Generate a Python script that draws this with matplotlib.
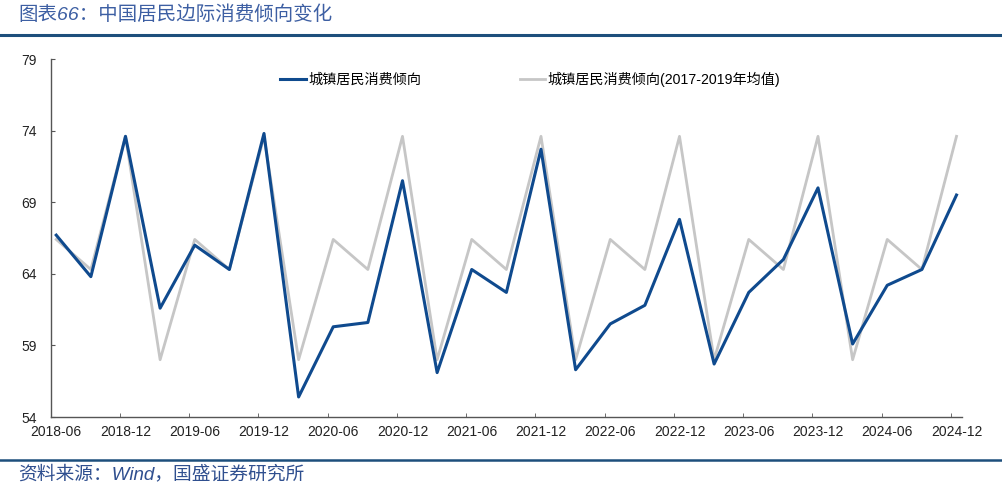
import matplotlib
matplotlib.use('Agg')
import matplotlib.pyplot as plt
import numpy as np

plt.rcParams['font.family'] = ['Liberation Sans', 'Noto Sans CJK SC', 'DejaVu Sans']

# quarterly data, 2018-06 .. 2024-12
quarters = ['2018-06', '2018-09', '2018-12',
            '2019-03', '2019-06', '2019-09', '2019-12',
            '2020-03', '2020-06', '2020-09', '2020-12',
            '2021-03', '2021-06', '2021-09', '2021-12',
            '2022-03', '2022-06', '2022-09', '2022-12',
            '2023-03', '2023-06', '2023-09', '2023-12',
            '2024-03', '2024-06', '2024-09', '2024-12']
urban = [66.7, 63.8, 73.6,
         61.6, 66.0, 64.3, 73.8,
         55.4, 60.3, 60.6, 70.5,
         57.1, 64.3, 62.7, 72.7,
         57.3, 60.5, 61.8, 67.8,
         57.7, 62.7, 65.0, 70.0,
         59.1, 63.2, 64.3, 69.5]
avg_17_19 = [66.4, 64.3, 73.6,
             58.0, 66.4, 64.3, 73.6,
             58.0, 66.4, 64.3, 73.6,
             58.0, 66.4, 64.3, 73.6,
             58.0, 66.4, 64.3, 73.6,
             58.0, 66.4, 64.3, 73.6,
             58.0, 66.4, 64.3, 73.6]
yticks = [54, 59, 64, 69, 74, 79]

blue = '#0f4a8e'
grey = '#c6c6c6'
dark = '#1d4f7c'

fig = plt.figure(figsize=(10.02, 4.91), dpi=100)
ax = fig.add_axes([50.7 / 1002, 1 - 417 / 491, 911 / 1002, 358 / 491])

x = np.arange(len(quarters))
ax.plot(x, avg_17_19, color=grey, lw=2.0, label='城镇居民消费倾向(2017-2019年均值)', zorder=2)
ax.plot(x, urban, color=blue, lw=2.2, label='城镇居民消费倾向', zorder=3)

ax.set_xlim(-0.15, len(quarters) - 1 + 0.15)
ax.set_ylim(54, 79)
ax.set_yticks(yticks)
ax.set_yticklabels([str(v) for v in yticks], fontsize=10, color='#222222')

# labels at every other quarter, tick marks sit slightly left of the points
ax.set_xticks(x[::2])
ax.set_xticklabels(quarters[::2], fontsize=10, color='#222222')
ax.tick_params(axis='x', length=0, pad=6)
ax.set_xticks(x[::2] - 0.16, minor=True)
ax.tick_params(axis='x', which='minor', direction='in', length=3, color='#555555')
ax.tick_params(axis='y', direction='in', length=3, color='#555555', pad=10)

for s in ['top', 'right']:
    ax.spines[s].set_visible(False)
for s in ['left', 'bottom']:
    ax.spines[s].set_color('#555555')
    ax.spines[s].set_linewidth(1.0)

h, l = ax.get_legend_handles_labels()
leg = ax.legend([h[1], h[0]], [l[1], l[0]], ncol=2, loc='upper left',
                bbox_to_anchor=(217 / 911, 1.0), frameon=False, fontsize=10.2,
                handlelength=1.8, handletextpad=0.2, columnspacing=6.9)

# header / footer
fig.text(18 / 1002, 1 - 15 / 491, '图表66：中国居民边际消费倾向变化', fontsize=14,
         color='#3d5fa3', style='italic', va='center', ha='left')
fig.add_artist(plt.Line2D([0, 1], [1 - 35 / 491, 1 - 35 / 491], color=dark, lw=2.2))
fig.add_artist(plt.Line2D([0, 1], [1 - 460 / 491, 1 - 460 / 491], color=dark, lw=1.8))
fig.text(18 / 1002, 1 - 474 / 491, '资料来源：Wind，国盛证券研究所', fontsize=13.5,
         color='#2f4f8f', style='italic', va='center', ha='left')

fig.savefig('out.png', dpi=100)
